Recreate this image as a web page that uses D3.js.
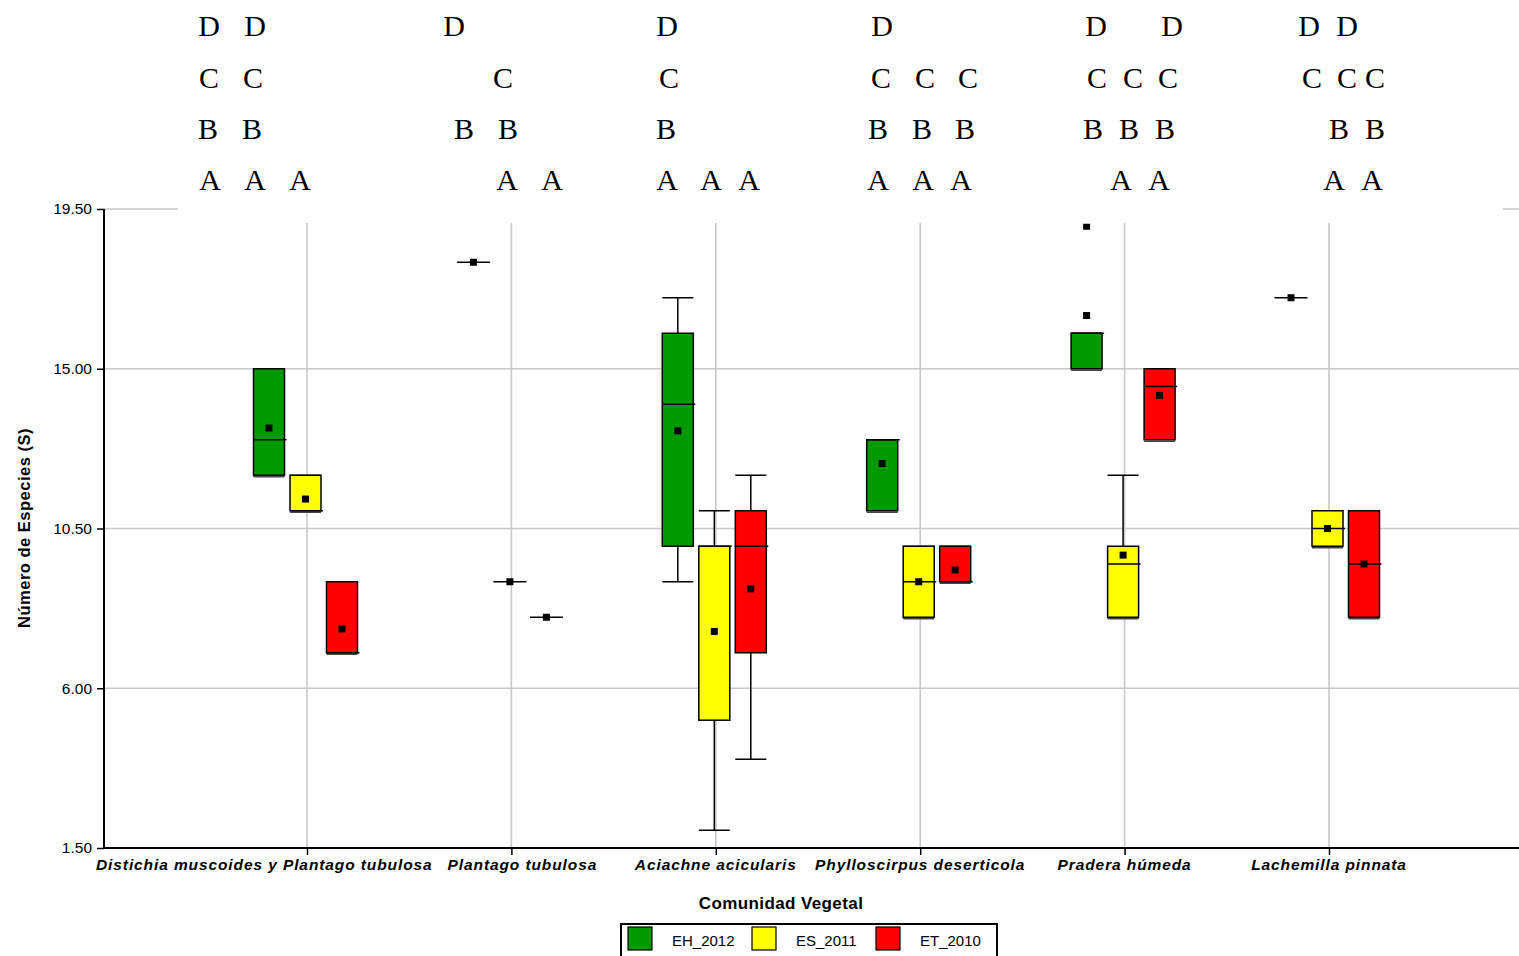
<!DOCTYPE html>
<html>
<head>
<meta charset="utf-8">
<script src="https://cdn.jsdelivr.net/npm/d3@7/dist/d3.min.js"></script>
<style>
  html, body { margin: 0; padding: 0; background: #fff; }
  svg { display: block; }
</style>
</head>
<body>
<svg id="chart" width="1519" height="956"></svg>
<script>
// ---------------- DATA ----------------
const categories = [
  "Distichia muscoides y Plantago tubulosa",
  "Plantago tubulosa",
  "Aciachne acicularis",
  "Phylloscirpus deserticola",
  "Pradera húmeda",
  "Lachemilla pinnata"
];
const seriesNames = ["EH_2012", "ES_2011", "ET_2010"];
const seriesColors = ["#009900", "#ffff00", "#ff0000"];

const yTicks = [1.5, 6.0, 10.5, 15.0, 19.5];

// EH_2012
const ehMin    = [12, 18, 9, 11, 15, 17];
const ehQ1     = [12, 18, 10, 11, 15, 17];
const ehMedian = [13, 18, 14, 13, 16, 17];
const ehQ3     = [15, 18, 16, 13, 16, 17];
const ehMax    = [15, 18, 17, 13, 16, 17];
const ehMean   = [13.33, 18, 13.25, 12.33, 16.5, 17];
const ehOutliers = [[], [], [], [], [19], []];

// ES_2011
const esMin    = [11, 9, 2, 8, 8, 10];
const esQ1     = [11, 9, 5.1, 8, 8, 10];
const esMedian = [11, 9, 10, 9, 9.5, 10.5];
const esQ3     = [12, 9, 10, 10, 10, 11];
const esMax    = [12, 9, 11, 10, 12, 11];
const esMean   = [11.33, 9, 7.6, 9, 9.75, 10.5];
const esOutliers = [[], [], [], [], [], []];

// ET_2010
const etMin    = [7, 8, 4, 9, 13, 8];
const etQ1     = [7, 8, 7, 9, 13, 8];
const etMedian = [7, 8, 10, 9, 14.5, 9.5];
const etQ3     = [9, 8, 11, 10, 15, 11];
const etMax    = [9, 8, 12, 10, 15, 11];
const etMean   = [7.67, 8, 8.8, 9.33, 14.25, 9.5];
const etOutliers = [[], [], [], [], [], []];

// Significance letters above each community (rows D, C, B, A)
const letterRows = ["D", "C", "B", "A"];
const letterGroups = [
  [["D","D"], ["C","C"], ["B","B"], ["A","A","A"]],
  [["D"], ["C"], ["B","B"], ["A","A"]],
  [["D"], ["C"], ["B"], ["A","A","A"]],
  [["D"], ["C","C","C"], ["B","B","B"], ["A","A","A"]],
  [["D","D"], ["C","C","C"], ["B","B","B"], ["A","A"]],
  [["D","D"], ["C","C","C"], ["B","B"], ["A","A"]]
];
// layout (pixel centres) of the pasted letter annotation
const letterLayout = [
  [[209,255], [209,253], [208,252], [210,255,300]],
  [[454], [503], [464,508], [507,552]],
  [[667], [669], [666], [667,711,749]],
  [[882], [881,925,968], [878,922,965], [878,923,961]],
  [[1096,1172], [1097,1133,1168], [1093,1129,1165], [1121,1159]],
  [[1309,1347], [1312,1347,1375], [1339,1375], [1334,1372]]
];

// ---------------- BUILD ----------------
const series = [
  {name: seriesNames[0], color: seriesColors[0], min: ehMin, q1: ehQ1, med: ehMedian, q3: ehQ3, max: ehMax, mean: ehMean, out: ehOutliers},
  {name: seriesNames[1], color: seriesColors[1], min: esMin, q1: esQ1, med: esMedian, q3: esQ3, max: esMax, mean: esMean, out: esOutliers},
  {name: seriesNames[2], color: seriesColors[2], min: etMin, q1: etQ1, med: etMedian, q3: etQ3, max: etMax, mean: etMean, out: etOutliers}
];

const svg = d3.select("#chart");
const plotLeft = 104, plotRight = 1519, plotTop = 209, plotBottom = 848;

const x = d3.scalePoint().domain(categories).range([102.6, 1533.4]).padding(1);
const xs = d3.scalePoint().domain(seriesNames).range([-38, 35]);
const boxW = 31;
const y = d3.scaleLinear().domain([1.5, 19.5]).range([plotBottom, plotTop]);

const gridColor = "#c8c8c8";

// gridlines horizontal
svg.append("g").selectAll("line").data(yTicks.filter(d => d > 1.5)).join("line")
  .attr("x1", plotLeft).attr("x2", plotRight)
  .attr("y1", d => y(d)).attr("y2", d => y(d))
  .attr("stroke", gridColor).attr("stroke-width", 1.6);
// gridlines vertical
svg.append("g").selectAll("line").data(categories).join("line")
  .attr("x1", d => x(d)).attr("x2", d => x(d))
  .attr("y1", plotTop).attr("y2", plotBottom)
  .attr("stroke", gridColor).attr("stroke-width", 1.6);

// pasted annotation area (white) covering the top of the plot
svg.append("rect").attr("x", 178).attr("y", 0).attr("width", 1503 - 178).attr("height", 223).attr("fill", "#fff");

// boxes
const plot = svg.append("g");
series.forEach(s => {
  categories.forEach((c, i) => {
    const cx = x(c) + xs(s.name);
    const g = plot.append("g");
    const mn = s.min[i], q1 = s.q1[i], md = s.med[i], q3 = s.q3[i], mx = s.max[i], mean = s.mean[i];
    if (q3 === q1) {
      g.append("line").attr("x1", cx - boxW/2 - 1).attr("x2", cx + boxW/2 + 1)
        .attr("y1", y(md)).attr("y2", y(md)).attr("stroke", "#000").attr("stroke-width", 1.5);
    } else {
      if (mx > q3) {
        g.append("line").attr("x1", cx).attr("x2", cx).attr("y1", y(mx)).attr("y2", y(q3))
          .attr("stroke", "#000").attr("stroke-width", 1.5);
      }
      if (mn < q1) {
        g.append("line").attr("x1", cx).attr("x2", cx).attr("y1", y(q1)).attr("y2", y(mn))
          .attr("stroke", "#000").attr("stroke-width", 1.5);
      }
      [mn, mx].forEach(v => {
        const off = v === q1 ? 1.5 : 0;
        g.append("line").attr("x1", cx - boxW/2).attr("x2", cx + boxW/2)
          .attr("y1", y(v) + off).attr("y2", y(v) + off)
          .attr("stroke", v === q1 || v === q3 ? "#444" : "#000").attr("stroke-width", 1.5);
      });
      g.append("rect").attr("x", cx - boxW/2).attr("y", y(q3))
        .attr("width", boxW).attr("height", y(q1) - y(q3))
        .attr("fill", s.color).attr("stroke", "#000").attr("stroke-width", 1.5);
      g.append("line").attr("x1", cx - boxW/2).attr("x2", cx + boxW/2 + 2)
        .attr("y1", y(md)).attr("y2", y(md)).attr("stroke", "#000").attr("stroke-width", 1.5);
    }
    g.append("rect").attr("x", cx - 3.5).attr("y", y(mean) - 3.5).attr("width", 7).attr("height", 7).attr("fill", "#000");
    s.out[i].forEach(v => {
      g.append("rect").attr("x", cx - 3.5).attr("y", y(v) - 3).attr("width", 7).attr("height", 6).attr("fill", "#000");
    });
  });
});

// axes
const yAxis = d3.axisLeft(y).tickValues(yTicks).tickFormat(d3.format(".2f")).tickSize(7).tickPadding(5);
const yG = svg.append("g").attr("transform", `translate(${plotLeft},0)`).call(yAxis);
yG.select(".domain").attr("stroke", "#000").attr("stroke-width", 2).attr("d", `M0,${plotTop}V${plotBottom}`);
yG.selectAll(".tick line").attr("stroke", "#000").attr("stroke-width", 1.5);
yG.selectAll(".tick text").attr("font-family", "Arial, 'Liberation Sans', sans-serif").attr("font-size", "15.5px").attr("fill", "#000");

const xAxis = d3.axisBottom(x).tickSize(7).tickFormat("");
const xG = svg.append("g").attr("transform", `translate(0,${plotBottom})`).call(xAxis);
xG.select(".domain").attr("stroke", "#000").attr("stroke-width", 2).attr("d", `M${plotLeft},0H${plotRight}`);
xG.selectAll(".tick line").attr("stroke", "#000").attr("stroke-width", 1.5);

// category labels with overlap avoidance
const labG = svg.append("g");
let prevEnd = -Infinity;
categories.forEach((c, i) => {
  const t = labG.append("text").attr("y", 870)
    .attr("font-family", "Arial, 'Liberation Sans', sans-serif").attr("font-size", "15.5px")
    .attr("font-weight", "bold").attr("font-style", "italic").attr("fill", "#000")
    .style("letter-spacing", "0.9px")
    .text(c);
  const w = t.node().getComputedTextLength();
  let start = x(c) - w / 2;
  if (i === 0) start = 96;
  start = Math.max(start, prevEnd + 15);
  t.attr("x", start);
  prevEnd = start + w;
});

// axis titles
svg.append("text").attr("x", 781).attr("y", 909).attr("text-anchor", "middle")
  .attr("font-family", "Arial, 'Liberation Sans', sans-serif").attr("font-size", "17px").attr("font-weight", "bold")
  .style("letter-spacing", "0.4px")
  .text("Comunidad Vegetal");
svg.append("text").attr("transform", "translate(30,528) rotate(-90)").attr("text-anchor", "middle")
  .attr("font-family", "Arial, 'Liberation Sans', sans-serif").attr("font-size", "16.5px").attr("font-weight", "bold")
  .style("letter-spacing", "0.5px")
  .text("Número de Especies (S)");

// legend
const lg = svg.append("g");
lg.append("rect").attr("x", 621).attr("y", 924).attr("width", 376).attr("height", 60)
  .attr("fill", "#fff").attr("stroke", "#000").attr("stroke-width", 2);
const legendStep = 124;
series.forEach((s, i) => {
  lg.append("rect").attr("x", 628 + i * legendStep).attr("y", 927).attr("width", 24).attr("height", 23)
    .attr("fill", s.color).attr("stroke", "#000").attr("stroke-width", 1.2);
  lg.append("text").attr("x", 672 + i * legendStep).attr("y", 946)
    .attr("font-family", "Arial, 'Liberation Sans', sans-serif").attr("font-size", "15px").attr("fill", "#000")
    .text(s.name);
});

// significance letters
const rowBase = [36, 88, 139, 190];
const lt = svg.append("g");
letterGroups.forEach((grp, gi) => {
  grp.forEach((row, ri) => {
    row.forEach((L, k) => {
      lt.append("text").attr("x", letterLayout[gi][ri][k]).attr("y", rowBase[ri])
        .attr("text-anchor", "middle")
        .attr("font-family", "'Liberation Serif', 'Times New Roman', serif").attr("font-size", "30px").attr("fill", "#000")
        .text(L);
    });
  });
});
</script>
</body>
</html>
